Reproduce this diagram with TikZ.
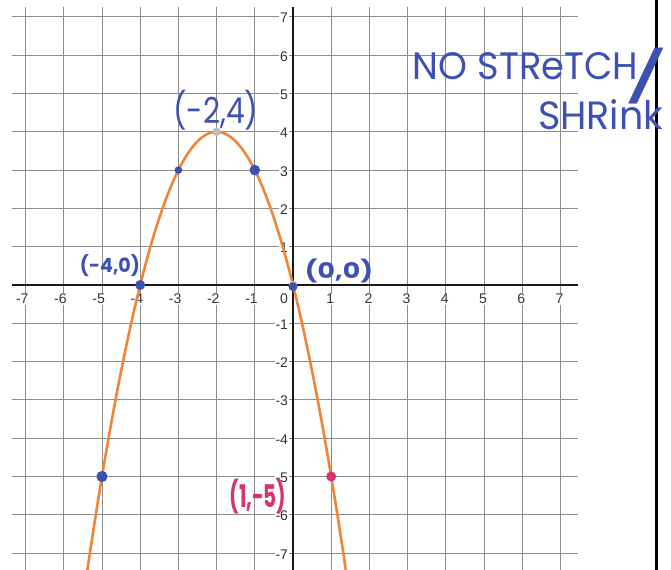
\documentclass[tikz,border=0pt]{standalone}
\usepackage{fontspec}
\usepackage{graphicx}
\setmainfont{Liberation Sans}
\newfontfamily\handfont{Poppins}
\definecolor{curveorange}{HTML}{F08538}
\definecolor{inkblue}{HTML}{3E50B2}
\definecolor{inkpink}{HTML}{D8336A}
\definecolor{ptgray}{HTML}{BDBDBD}
\definecolor{gridgray}{HTML}{8C8C8C}

\begin{document}
\begin{tikzpicture}[
  x=38.2pt, y=38.3pt,
  gridline/.style ={draw=gridgray, line width=0.9pt},
  axisline/.style ={draw=black!90, line width=1.8pt},
  ticklab/.style  ={font=\fontsize{14}{14}\selectfont, text=black!80,
                    fill=white, inner sep=0.8pt},
  parab/.style    ={draw=curveorange, line width=2.6pt},
  dot/.style      ={circle, inner sep=0pt, minimum size=#1},
  ink/.style      ={text=inkblue, inner sep=0pt, font=\handfont},
  smallink/.style ={text=inkblue, inner sep=0pt, font=\handfont\bfseries},
  pinkink/.style  ={text=inkpink, inner sep=0pt, font=\handfont\bfseries},
]
\useasboundingbox (-7.670,-7.441) rectangle (9.895,7.441);

%% ---- Grid and axes ----
\draw[gridline, step=1] (-7.356,-7.441) grid (7.46,7.26);
\draw[axisline] (-7.356,0) -- (7.46,0);
\draw[axisline] (0,-7.441) -- (0,7.26);

%% ---- Tick labels ----
\foreach \k in {-7,...,-1,1,2,...,7}
  \node[ticklab, anchor=base east] (xl\k) at ([xshift=3.9pt]\k,-0.496) {\k};
\foreach \k in {-7,...,-1,1,2,...,7}
  \node[ticklab, anchor=base east] (yl\k) at ([xshift=-4pt, yshift=-6pt]0,\k) {\k};
\node[ticklab, anchor=base east] (orig) at ([xshift=-4pt]0,-0.496) {0};

%% ---- Parabola y = -(x+2)^2 + 4 ----
\draw[parab, domain=-5.3825:1.3825, samples=120, smooth]
  plot (\x, {4-(\x+2)^2});

%% ---- Points ----
\node[dot=8.6pt, fill=ptgray] (vert) at (-2,4) {};
\node[dot=8.6pt, fill=ptgray] (org) at (0,0) {};
\node[dot=7.6pt, fill=inkblue] (pa) at (-3,3) {};
\node[dot=10.6pt, fill=inkblue] (pb) at (-1,3) {};
\node[dot=10pt, fill=inkblue] (pc) at (-4,0) {};
\node[dot=9pt, fill=inkblue, yshift=-1.7pt] (pd) at (0,0) {};
\node[dot=11.2pt, fill=inkblue] (pe) at (-5,-5) {};
\node[dot=10pt, fill=inkpink] (pf) at (1,-5) {};

%% ---- Right margin line ----
\draw[line width=3.3pt] (9.521,-7.441) -- (9.521,7.441);

%% ---- Handwritten notes ----
\node[ink] (vlab) at (-2.016,4.569) {\resizebox*{85pt}{40pt}{(-2,4)}};
\node[smallink] (llab) at (-4.791,0.496) {\resizebox*{60pt}{22pt}{(-4,0)}};
\node[smallink] (rlab) at (1.204,0.366) {\resizebox*{68pt}{24pt}{(0,0)}};
\node[pinkink] (plab) at (-0.916,-5.535) {\resizebox*{57pt}{35pt}{(1,-5)}};
\node[ink] (note1) at (6.086,5.705) {\resizebox{225pt}{27pt}{NO STReTCH}};
\node[ink] (slash) at (9.241,5.457) {\resizebox*{46pt}{56pt}{/}};
\node[ink] (note2) at (8.05,4.439) {\resizebox{125pt}{30pt}{SHRink}};

\end{tikzpicture}
\end{document}
